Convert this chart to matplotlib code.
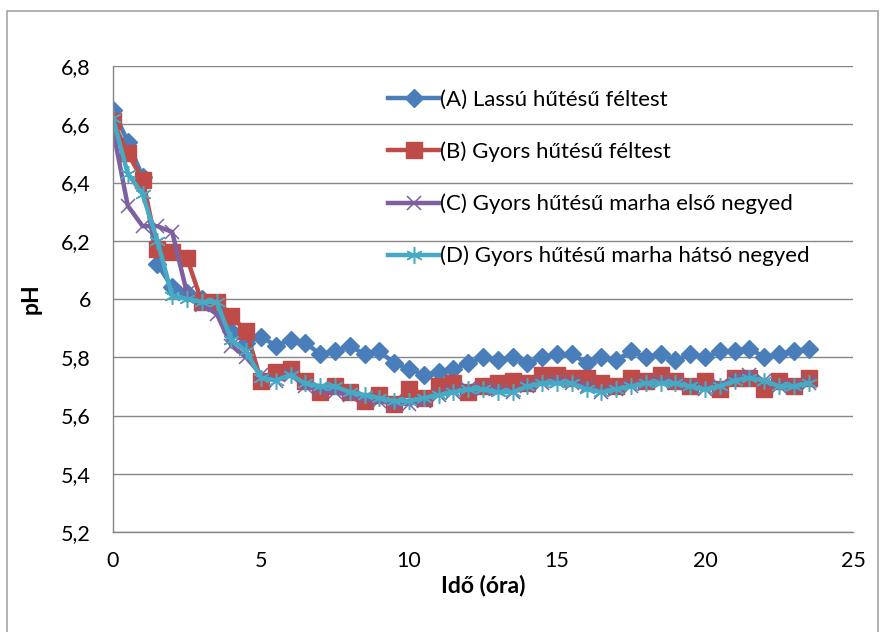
import matplotlib
matplotlib.use("Agg")
import matplotlib.pyplot as plt
from matplotlib.patches import Rectangle
from matplotlib.ticker import FuncFormatter

plt.rcParams['font.family'] = ['Lato', 'DejaVu Sans']

ido = [i * 0.5 for i in range(48)]

lassu_feltest = [6.65, 6.54, 6.42, 6.12, 6.04, 6.02, 6.00, 5.97, 5.89, 5.85,
                 5.87, 5.84, 5.86, 5.85, 5.81, 5.82, 5.84, 5.81, 5.82, 5.78,
                 5.76, 5.74, 5.75, 5.76, 5.78, 5.80, 5.79, 5.80, 5.78, 5.80,
                 5.81, 5.81, 5.78, 5.80, 5.79, 5.82, 5.80, 5.81, 5.79, 5.81,
                 5.80, 5.82, 5.82, 5.83, 5.80, 5.81, 5.82, 5.83]
gyors_feltest = [6.61, 6.50, 6.41, 6.17, 6.16, 6.14, 5.99, 5.99, 5.94, 5.89,
                 5.72, 5.75, 5.76, 5.72, 5.68, 5.70, 5.68, 5.65, 5.67, 5.64,
                 5.69, 5.66, 5.70, 5.71, 5.68, 5.70, 5.71, 5.72, 5.71, 5.74,
                 5.74, 5.73, 5.73, 5.71, 5.70, 5.73, 5.72, 5.74, 5.72, 5.70,
                 5.72, 5.69, 5.73, 5.73, 5.69, 5.72, 5.70, 5.73]
marha_elso = [6.58, 6.32, 6.25, 6.25, 6.23, 6.02, 5.98, 5.95, 5.84, 5.80,
              5.74, 5.72, 5.74, 5.70, 5.69, 5.68, 5.67, 5.66, 5.65, 5.64,
              5.64, 5.65, 5.67, 5.68, 5.69, 5.69, 5.69, 5.68, 5.70, 5.71,
              5.72, 5.71, 5.70, 5.68, 5.69, 5.70, 5.71, 5.72, 5.71, 5.70,
              5.69, 5.70, 5.73, 5.74, 5.72, 5.70, 5.70, 5.71]
marha_hatso = [6.62, 6.43, 6.36, 6.20, 6.01, 6.00, 5.99, 5.99, 5.86, 5.82,
               5.73, 5.72, 5.74, 5.71, 5.70, 5.70, 5.68, 5.67, 5.66, 5.65,
               5.65, 5.66, 5.67, 5.68, 5.69, 5.69, 5.68, 5.68, 5.70, 5.71,
               5.71, 5.71, 5.69, 5.68, 5.69, 5.70, 5.71, 5.71, 5.71, 5.70,
               5.69, 5.70, 5.72, 5.73, 5.72, 5.70, 5.70, 5.71]

labels = ['(A) Lassú hűtésű féltest',
          '(B) Gyors hűtésű féltest',
          '(C) Gyors hűtésű marha első negyed',
          '(D) Gyors hűtésű marha hátsó negyed']

fig = plt.figure(figsize=(8.86, 6.32), dpi=100)
ax = fig.add_axes([113 / 886, 1 - 532 / 632, 740 / 886, 466 / 632])

fig.patches.append(Rectangle((7 / 886, -0.05), 871 / 886, 1 - 11 / 632 + 0.05,
                             transform=fig.transFigure, fill=False,
                             edgecolor='#a6a6a6', linewidth=1.2))

ax.plot(ido, lassu_feltest, color='#4a7ebb', lw=3.2, marker='D', ms=9.5,
        label=labels[0])
ax.plot(ido, gyors_feltest, color='#be4b48', lw=3.2, marker='s', ms=11,
        label=labels[1])
ax.plot(ido, marha_elso, color='#7d60a0', lw=3.2, marker='x', ms=10.5, mew=1.1,
        label=labels[2])
ax.plot(ido, marha_hatso, color='#46aac5', lw=3.2, marker=(6, 2, 0), ms=12,
        mew=1.1, label=labels[3])

ax.set_xlim(0, 25)
ax.set_ylim(5.2, 6.8)
ax.set_xticks([0, 5, 10, 15, 20, 25])
ax.set_yticks([5.2, 5.4, 5.6, 5.8, 6.0, 6.2, 6.4, 6.6, 6.8])
ax.yaxis.set_major_formatter(FuncFormatter(lambda v, p: ('%g' % round(v, 1)).replace('.', ',')))
ax.tick_params(length=0, labelsize=15.5)
ax.tick_params(axis='y', pad=16)
ax.tick_params(axis='x', pad=14)
ax.grid(axis='y', color='#868686', lw=1)
ax.set_axisbelow(True)
for s in ['top', 'right']:
    ax.spines[s].set_visible(False)
for s in ['left', 'bottom']:
    ax.spines[s].set_color('#868686')
    ax.spines[s].set_linewidth(1)

ax.set_xlabel('Idő (óra)', fontsize=16.5, fontweight='bold', labelpad=2)
ax.set_ylabel('pH', fontsize=16.5, fontweight='bold', labelpad=14)

ax.legend(loc='upper left', bbox_to_anchor=(388 / 886, 1 - 90 / 632),
          bbox_transform=fig.transFigure, frameon=False, fontsize=16,
          handlelength=2.3, handletextpad=0.05, labelspacing=1.42,
          borderaxespad=0, borderpad=0)

fig.savefig('out.png', dpi=100)
